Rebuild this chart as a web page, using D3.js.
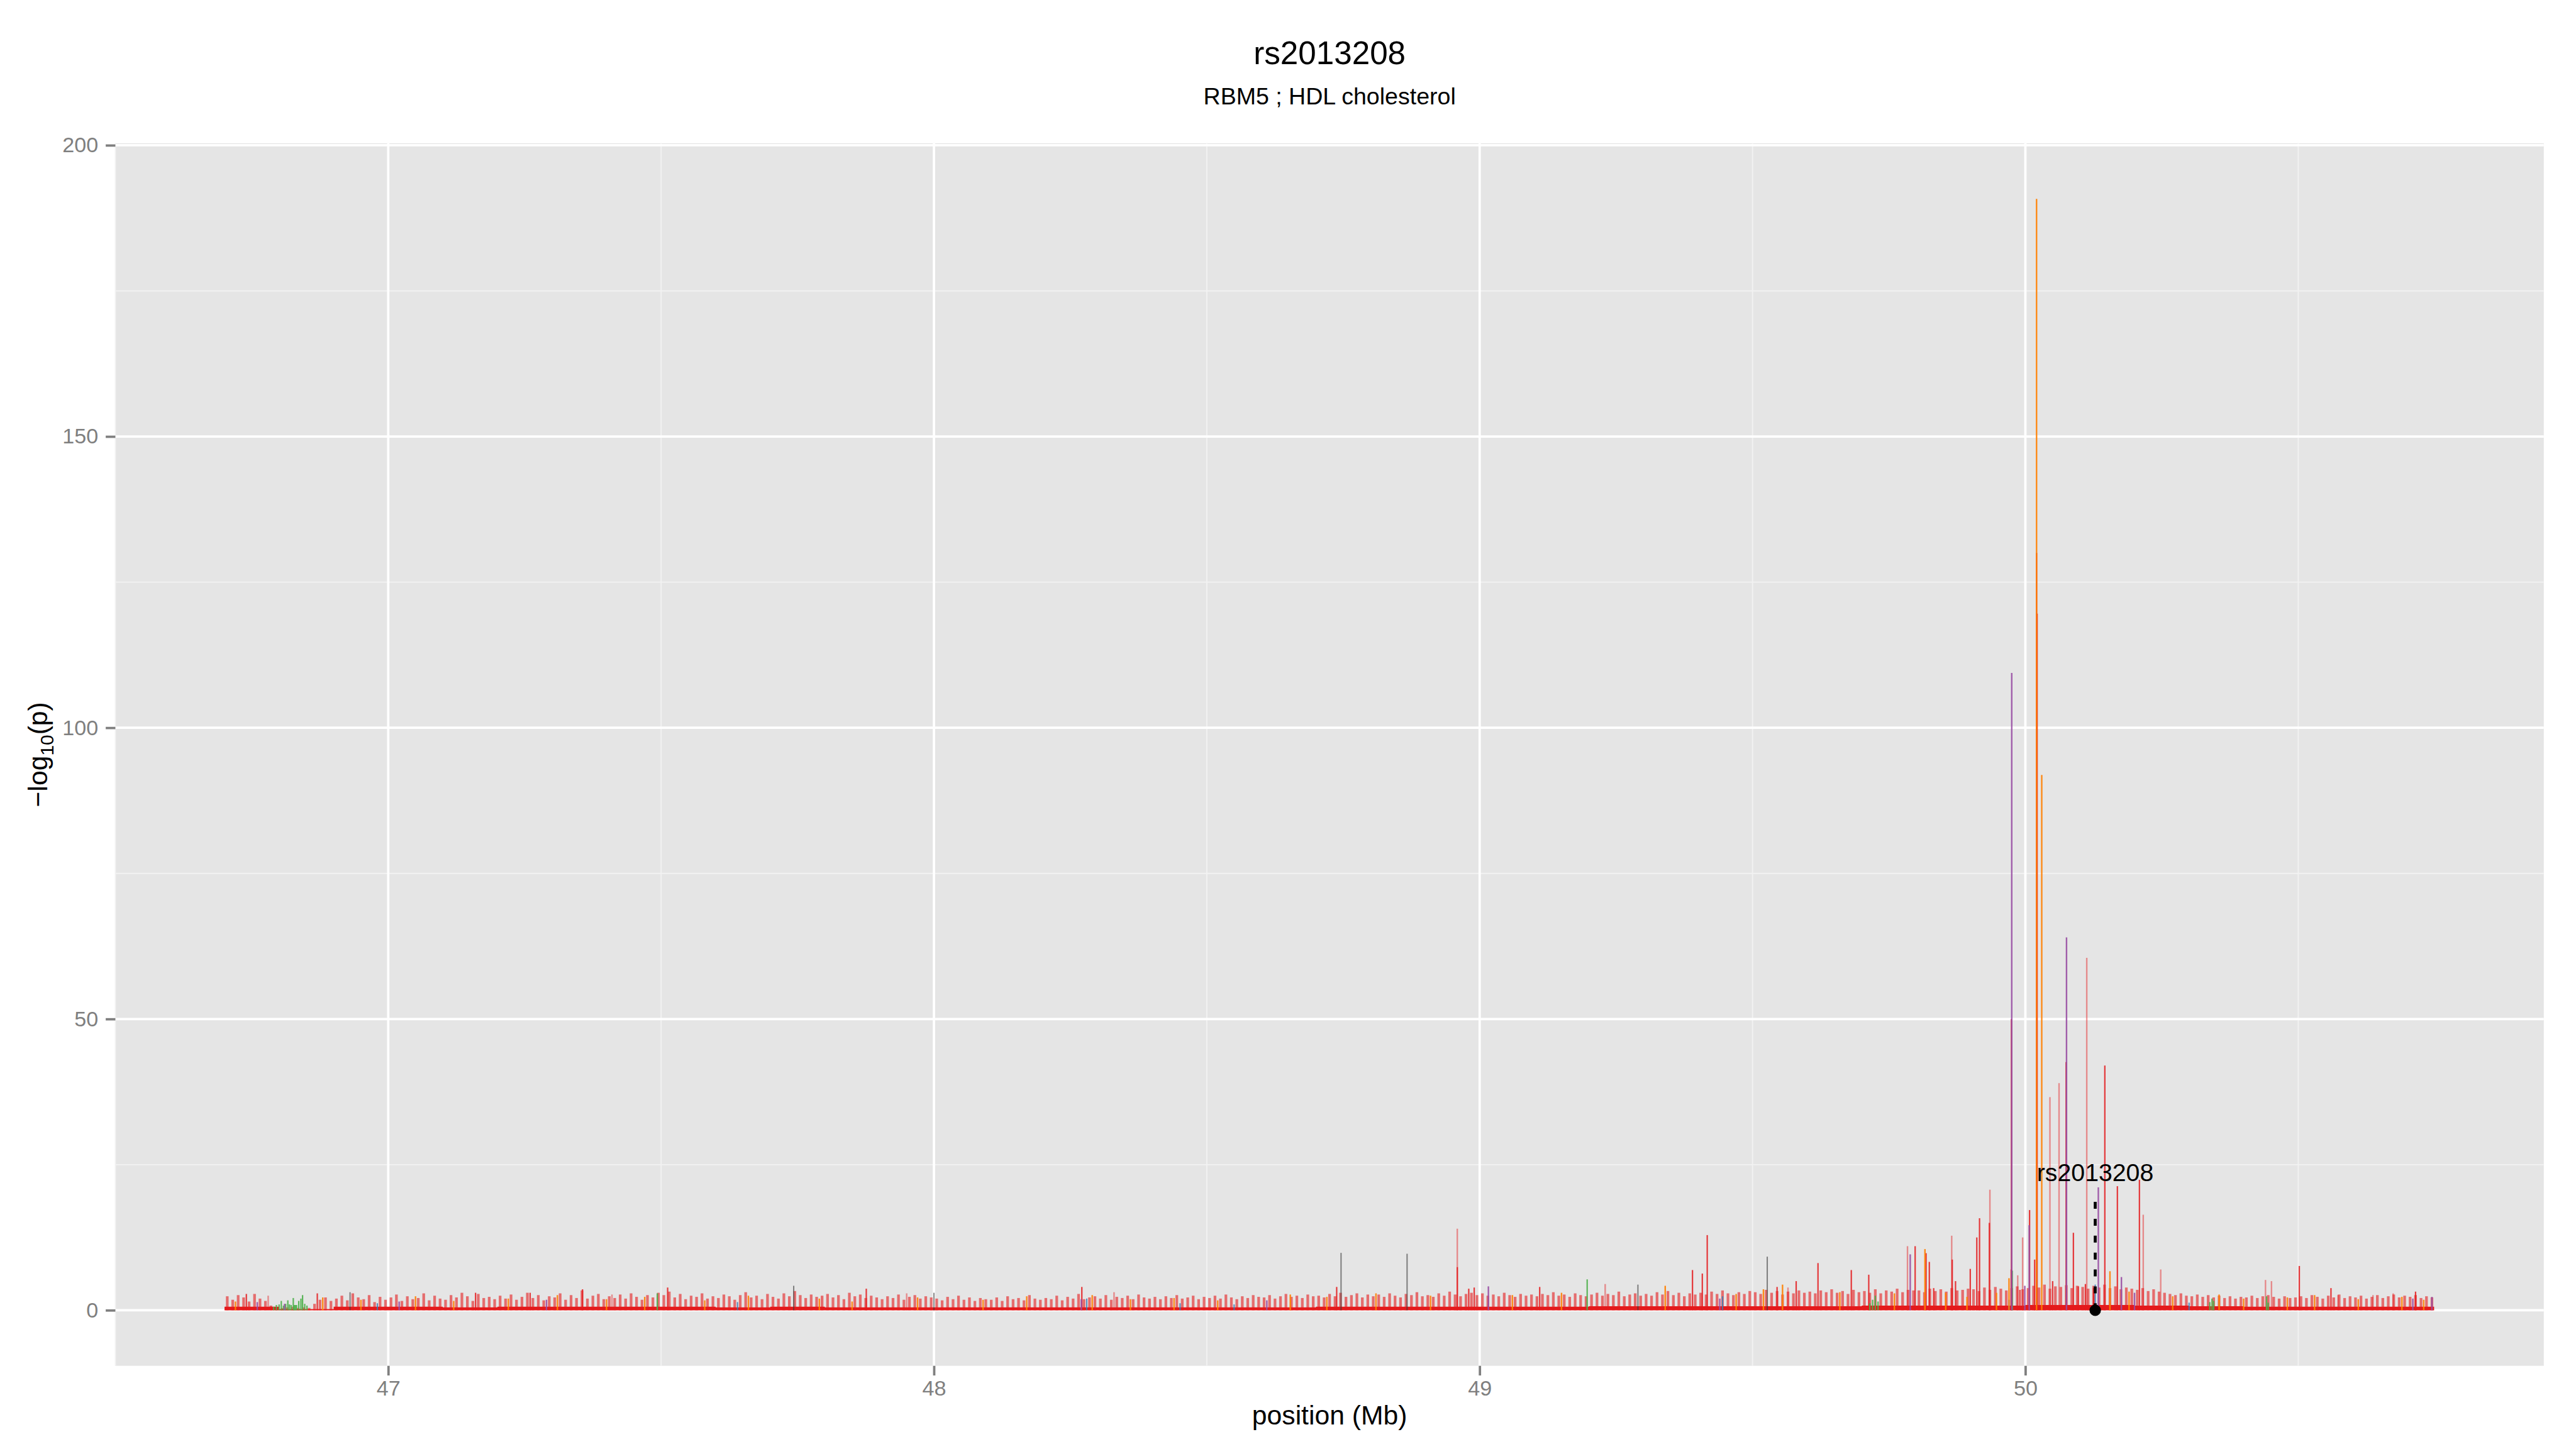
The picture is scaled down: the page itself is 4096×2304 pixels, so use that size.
<!DOCTYPE html>
<html>
<head>
<meta charset="utf-8">
<script src="https://cdn.jsdelivr.net/npm/d3@7/dist/d3.min.js"></script>
<style>
  html, body { margin: 0; padding: 0; background: #fff; }
  text { font-family: "Liberation Sans", Arial, Helvetica, sans-serif; }
</style>
</head>
<body>
<div id="chart"></div>
<script>
// ---- data ----
const titleText = "rs2013208";
const subtitleText = "RBM5 ; HDL cholesterol";

const xLimits = [46.50, 50.95];
const yLimits = [-9.54, 200.34];
const xTicks = [47, 48, 49, 50];
const xMinor = [46.5, 47.5, 48.5, 49.5, 50.5];
const yTicks = [0, 50, 100, 150, 200];
const yMinor = [25, 75, 125, 175];

// lead SNP: name, position (Mb), label height, top of the dashed line
const leadSnp = ["rs2013208", 50.128];
const leadLabelAt = 22.2;
const leadLineTop = 19;

// dense background of small SNP lines, one height per 0.01 Mb bin
const bandStart = 46.70;
const bandEnd = 50.749;
const bandStep = 0.01;
const bandHeights = [
  2.4,1.8,2.6,2.2,1.5,2.8,2.0,1.6,0.8,0.5,
  0.4,0.5,0.6,0.4,0.5,0.4,1.1,1.8,2.2,1.6,
  2.0,2.5,1.7,2.9,2.2,1.9,2.6,1.4,2.3,1.8,
  2.2,2.7,1.6,2.4,1.9,2.1,2.9,1.7,2.5,2.0,
  1.8,2.6,2.2,3.0,2.4,1.6,2.8,2.1,2.3,1.9,
  2.5,2.0,2.7,1.8,2.3,3.0,2.1,2.6,1.7,2.4,
  2.2,2.9,1.8,2.6,2.1,3.4,2.0,2.5,2.8,1.9,
  2.4,2.1,2.7,2.0,2.9,2.3,1.8,2.6,2.2,3.0,
  2.6,3.2,2.2,2.8,1.9,2.5,2.3,2.9,2.0,2.4,
  2.1,2.7,2.4,1.8,2.6,3.1,2.2,2.5,1.9,2.8,
  2.3,2.0,2.9,2.4,3.3,2.6,2.1,2.7,2.3,2.5,
  2.8,2.2,2.6,1.9,3.0,2.4,2.7,2.1,2.5,2.2,
  1.9,2.4,2.1,2.7,1.8,2.3,2.6,2.0,2.4,2.2,
  2.0,1.7,2.3,1.9,2.5,1.8,2.2,1.6,2.1,1.9,
  1.8,2.2,1.6,2.4,1.9,2.1,1.7,2.6,2.0,1.8,
  2.1,1.9,2.5,1.7,2.3,2.0,2.8,1.9,2.2,2.4,
  2.0,2.6,1.8,2.3,2.1,2.5,1.9,2.7,2.2,2.0,
  2.3,1.9,2.4,2.1,2.6,2.0,2.2,2.5,1.9,2.3,
  2.1,2.5,2.0,2.7,2.2,1.9,2.4,2.1,2.6,2.3,
  2.2,2.6,2.0,2.4,2.8,2.3,2.5,2.1,2.7,2.4,
  2.5,2.2,2.8,2.4,3.0,2.3,2.6,2.9,2.2,2.7,
  2.4,2.7,2.3,2.9,2.5,2.2,2.8,2.6,3.1,2.4,
  2.6,2.3,2.9,2.5,3.2,2.7,2.4,2.8,3.0,2.6,
  2.9,2.5,2.7,2.4,3.0,2.6,2.3,2.8,2.5,2.7,
  2.4,2.8,2.6,3.1,2.5,2.7,2.3,2.9,2.6,2.4,
  2.7,3.0,2.5,2.8,2.6,3.2,2.4,2.7,2.9,2.5,
  2.8,2.5,3.1,2.7,3.3,2.6,3.0,2.4,2.9,2.7,
  3.0,2.7,3.2,2.8,3.4,2.9,2.6,3.1,2.8,3.3,
  3.1,2.8,3.5,3.0,3.3,2.7,3.2,2.9,3.4,3.0,
  3.2,2.9,3.4,3.1,3.6,3.0,3.3,2.8,3.5,3.1,
  3.3,3.0,3.6,2.9,3.4,3.2,3.7,3.1,3.5,3.4,
  3.4,3.1,3.7,3.3,3.6,3.2,3.8,3.4,3.5,3.7,
  3.6,3.3,3.9,3.5,4.0,3.7,3.4,3.8,4.1,3.6,
  3.8,4.2,3.9,4.4,3.7,4.1,4.0,4.3,3.8,4.2,
  4.0,3.7,4.2,3.9,4.4,3.8,4.1,3.6,3.9,3.7,
  3.5,3.8,3.3,3.6,3.2,3.0,2.8,2.6,2.9,2.5,
  2.4,2.7,2.3,2.6,2.2,2.5,2.1,2.4,2.0,2.3,
  2.2,2.5,2.1,2.4,2.6,2.3,2.0,2.4,2.1,2.2,
  2.4,2.1,2.6,2.3,2.0,2.5,2.2,2.7,2.1,2.4,
  2.2,2.5,2.0,2.3,2.6,2.1,2.4,2.7,2.2,2.5,
  2.3,2.6,2.1,2.4,2.2
];
// solid base of the band, one height per 0.1 Mb
const floorStep = 0.1;
const floorHeights = [
  0.6,0.2,0.6,0.6,0.5,0.6,0.6,0.6,0.6,0.5,
  0.6,0.5,0.5,0.5,0.5,0.5,0.5,0.5,0.5,0.5,
  0.6,0.6,0.6,0.6,0.6,0.7,0.7,0.7,0.7,0.7,
  0.8,0.8,0.8,0.9,0.9,0.8,0.7,0.6,0.6,0.6,
  0.6
];

// individual SNPs [position Mb, -log10 p], grouped by colour
const pinkSnps = [
  [46.78,2.5],[47.41,2.7],[47.95,2.9],[48.33,3.1],[48.959,14.0],[49.23,4.5],
  [49.565,3.9],[49.784,11.0],[49.865,12.8],[49.935,20.7],[49.986,6.0],[49.995,12.5],
  [50.045,36.6],[50.0617,39.0],[50.1125,60.5],[50.216,16.4],[50.248,7.0],
  [50.44,5.2],[50.451,5.0],[50.573,2.6],[50.637,2.6],[50.674,2.9]
];
const redSnps = [
  [46.74,2.8],[46.87,2.9],[47.16,3.0],[47.26,3.0],[47.356,3.6],[47.512,3.9],
  [47.876,3.7],[48.271,4.0],[48.738,4.0],[48.959,7.4],[48.98,3.7],[48.99,3.9],
  [49.11,4.0],[49.39,6.9],[49.408,6.3],[49.417,12.9],[49.545,4.0],[49.58,5.0],
  [49.62,8.1],[49.681,6.9],[49.713,6.1],[49.798,11.0],[49.818,9.8],[49.824,8.3],
  [49.832,3.8],[49.866,8.7],[49.872,5.0],[49.899,7.1],[49.911,12.5],[49.916,15.8],
  [49.934,15.0],[49.974,7.0],[49.9745,50.0],[49.99,3.5],[50.0077,17.2],[50.017,8.7],
  [50.0205,130.0],[50.0215,119.6],[50.05,5.0],[50.0747,42.6],[50.088,13.3],[50.097,4.1],
  [50.11,4.5],[50.125,3.8],[50.1456,42.0],[50.1686,21.3],[50.209,22.4],[50.502,7.6],
  [50.56,3.8],[50.715,3.2]
];
const greySnps = [
  [46.93,3.1],[47.743,4.2],[48.00,3.0],[48.746,9.85],[48.867,9.7],[49.29,4.4],[49.527,9.2]
];
const blueSnps = [
  [46.98,1.2],[47.64,1.4],[48.28,2.0],[48.451,1.2],[48.55,1.0],[49.445,2.4],
  [49.97,1.8],[50.128,4.4],[50.30,1.3]
];
const greenSnps = [
  [46.790,0.6],[46.795,0.9],[46.800,1.0],[46.804,1.6],[46.808,0.8],[46.812,1.1],
  [46.816,1.7],[46.819,1.0],[46.822,0.9],[46.826,2.1],[46.828,0.9],[46.830,0.9],
  [46.832,0.9],[46.836,1.6],[46.840,2.0],[46.843,2.6],[46.847,1.1],[46.851,0.8],
  [47.493,2.9],[49.197,5.3],[49.715,1.2],[49.72,1.8],[49.725,2.5],[49.73,1.5],
  [49.976,6.8],[50.338,1.4],[50.342,2.0],[50.345,1.6],[50.442,2.4],[50.445,1.3]
];
const purpleSnps = [
  [46.76,1.4],[46.81,1.1],[47.02,1.5],[47.29,1.8],[48.27,1.9],[48.61,1.7],
  [49.016,4.1],[49.44,2.0],[49.789,9.6],[49.975,109.4],[49.999,4.2],[50.007,14.6],
  [50.0754,64.0],[50.1337,21.1],[50.176,5.7],[50.20,3.0],[50.71,2.0],[50.745,2.3]
];
const orangeSnps = [
  [46.72,1.5],[46.88,2.2],[46.95,1.8],[47.05,2.4],[47.12,1.6],[47.22,2.0],
  [47.31,2.6],[47.40,1.9],[47.47,2.3],[47.58,1.7],[47.66,2.5],[47.79,2.0],
  [47.85,1.5],[47.97,2.2],[48.09,1.8],[48.17,2.4],[48.29,2.6],[48.36,1.9],
  [48.44,2.1],[48.52,1.7],[48.653,2.7],[48.72,2.3],[48.81,2.9],[48.91,2.5],
  [49.06,2.6],[49.15,3.0],[49.34,4.2],[49.47,2.8],[49.52,3.6],[49.555,4.4],
  [49.66,3.1],[49.76,2.9],[49.816,10.5],[49.854,3.0],[49.893,2.3],[49.947,3.0],
  [49.970,5.5],[50.0205,190.8],[50.030,91.9],[50.155,6.7],[50.19,3.2],[50.27,2.4],
  [50.355,2.7],[50.40,2.0],[50.48,2.2],[50.53,2.6],[50.61,1.9],[50.69,2.3],[50.73,1.8]
];

// ---- layout, in reference pixels; the viewBox shrinks it to the window ----
const W = 4800, H = 2700;
const panel = { left: 215, right: 4740, top: 267, bottom: 2545 };
const cx = (panel.left + panel.right) / 2;

const svg = d3.select("#chart").append("svg")
  .attr("width", 4096)
  .attr("height", 2304)
  .attr("viewBox", `0 0 ${W} ${H}`);

svg.append("rect").attr("width", W).attr("height", H).attr("fill", "#fff");

const x = d3.scaleLinear().domain(xLimits).range([panel.left, panel.right]);
const y = d3.scaleLinear().domain(yLimits).range([panel.bottom, panel.top]);

// panel background and grid
svg.append("rect")
  .attr("x", panel.left).attr("y", panel.top)
  .attr("width", panel.right - panel.left).attr("height", panel.bottom - panel.top)
  .attr("fill", "#e5e5e5");

const grid = svg.append("g");
grid.selectAll(".vminor").data(xMinor).enter().append("line")
  .attr("x1", d => x(d)).attr("x2", d => x(d))
  .attr("y1", panel.top).attr("y2", panel.bottom)
  .attr("stroke", "#f2f2f2").attr("stroke-width", 2.2);
grid.selectAll(".hminor").data(yMinor).enter().append("line")
  .attr("y1", d => y(d)).attr("y2", d => y(d))
  .attr("x1", panel.left).attr("x2", panel.right)
  .attr("stroke", "#f2f2f2").attr("stroke-width", 2.2);
grid.selectAll(".vmajor").data(xTicks).enter().append("line")
  .attr("x1", d => x(d)).attr("x2", d => x(d))
  .attr("y1", panel.top).attr("y2", panel.bottom)
  .attr("stroke", "#fff").attr("stroke-width", 4.4);
grid.selectAll(".hmajor").data(yTicks).enter().append("line")
  .attr("y1", d => y(d)).attr("y2", d => y(d))
  .attr("x1", panel.left).attr("x2", panel.right)
  .attr("stroke", "#fff").attr("stroke-width", 4.4);

const plot = svg.append("g");
const red = "#e41a1c";

// solid base of the band
const floorPts = floorHeights.map((v, i) => [bandStart + i * floorStep, v]);
floorPts.push([bandEnd, floorHeights[floorHeights.length - 1]]);
plot.append("path")
  .datum(floorPts)
  .attr("d", d3.area().curve(d3.curveStepAfter)
    .x(d => x(d[0])).y0(y(0)).y1(d => y(d[1])))
  .attr("fill", red);

// jagged top of the band
plot.append("g").selectAll("line")
  .data(bandHeights)
  .enter().append("line")
  .attr("x1", (d, i) => x(bandStart + (i + 0.5) * bandStep))
  .attr("x2", (d, i) => x(bandStart + (i + 0.5) * bandStep))
  .attr("y1", y(0))
  .attr("y2", d => y(d))
  .attr("stroke", red).attr("stroke-opacity", 0.6).attr("stroke-width", 5);

function drawSnps(data, colour, opacity, width) {
  plot.append("g").selectAll("line")
    .data(data)
    .enter().append("line")
    .attr("x1", d => x(d[0])).attr("x2", d => x(d[0]))
    .attr("y1", y(0)).attr("y2", d => y(d[1]))
    .attr("stroke", colour)
    .attr("stroke-opacity", opacity)
    .attr("stroke-width", width);
}

drawSnps(pinkSnps, red, 0.45, 2.8);
drawSnps(redSnps, red, 0.85, 2.6);
drawSnps(greySnps, "#3a3a3a", 0.6, 2.4);
drawSnps(blueSnps, "#377eb8", 0.85, 2.4);
drawSnps(greenSnps, "#4daf4a", 0.9, 2.6);
drawSnps(purpleSnps, "#984ea3", 0.9, 2.8);
drawSnps(orangeSnps, "#ff7f00", 0.9, 2.8);

// lead SNP marker
plot.append("line")
  .attr("x1", x(leadSnp[1])).attr("x2", x(leadSnp[1]))
  .attr("y1", y(0)).attr("y2", y(leadLineTop))
  .attr("stroke", "#000").attr("stroke-width", 5.5)
  .attr("stroke-dasharray", "13,18.5");
plot.append("circle")
  .attr("cx", x(leadSnp[1])).attr("cy", y(0)).attr("r", 10.7)
  .attr("fill", "#000");
plot.append("text")
  .attr("x", x(leadSnp[1])).attr("y", y(leadLabelAt))
  .attr("text-anchor", "middle")
  .attr("font-size", 46)
  .attr("fill", "#000")
  .text(leadSnp[0]);

// axes
const xAxis = svg.append("g")
  .attr("transform", `translate(0,${panel.bottom})`)
  .call(d3.axisBottom(x).tickValues(xTicks).tickFormat(d3.format("d"))
    .tickSize(18).tickPadding(9));
xAxis.select(".domain").remove();
xAxis.selectAll(".tick line").attr("stroke", "#7f7f7f").attr("stroke-width", 4.4);
xAxis.selectAll(".tick text").attr("fill", "#7f7f7f").attr("font-size", 40);

const yAxis = svg.append("g")
  .attr("transform", `translate(${panel.left},0)`)
  .call(d3.axisLeft(y).tickValues(yTicks).tickFormat(d3.format("d"))
    .tickSize(18).tickPadding(14));
yAxis.select(".domain").remove();
yAxis.selectAll(".tick line").attr("stroke", "#7f7f7f").attr("stroke-width", 4.4);
yAxis.selectAll(".tick text").attr("fill", "#7f7f7f").attr("font-size", 40);

// titles
svg.append("text")
  .attr("x", cx).attr("y", 120)
  .attr("text-anchor", "middle").attr("font-size", 60).attr("fill", "#000")
  .text(titleText);
svg.append("text")
  .attr("x", cx).attr("y", 194)
  .attr("text-anchor", "middle").attr("font-size", 44).attr("fill", "#000")
  .text(subtitleText);

svg.append("text")
  .attr("x", cx).attr("y", 2654)
  .attr("text-anchor", "middle").attr("font-size", 50).attr("fill", "#000")
  .text("position (Mb)");

const yTitle = svg.append("text")
  .attr("x", 88).attr("y", 1406)
  .attr("transform", "rotate(-90,88,1406)")
  .attr("text-anchor", "middle").attr("font-size", 50).attr("fill", "#000");
yTitle.append("tspan").text("\u2212log");
yTitle.append("tspan").attr("font-size", 35).attr("dy", 12).text("10");
yTitle.append("tspan").attr("dy", -12).text("(p)");
</script>
</body>
</html>
